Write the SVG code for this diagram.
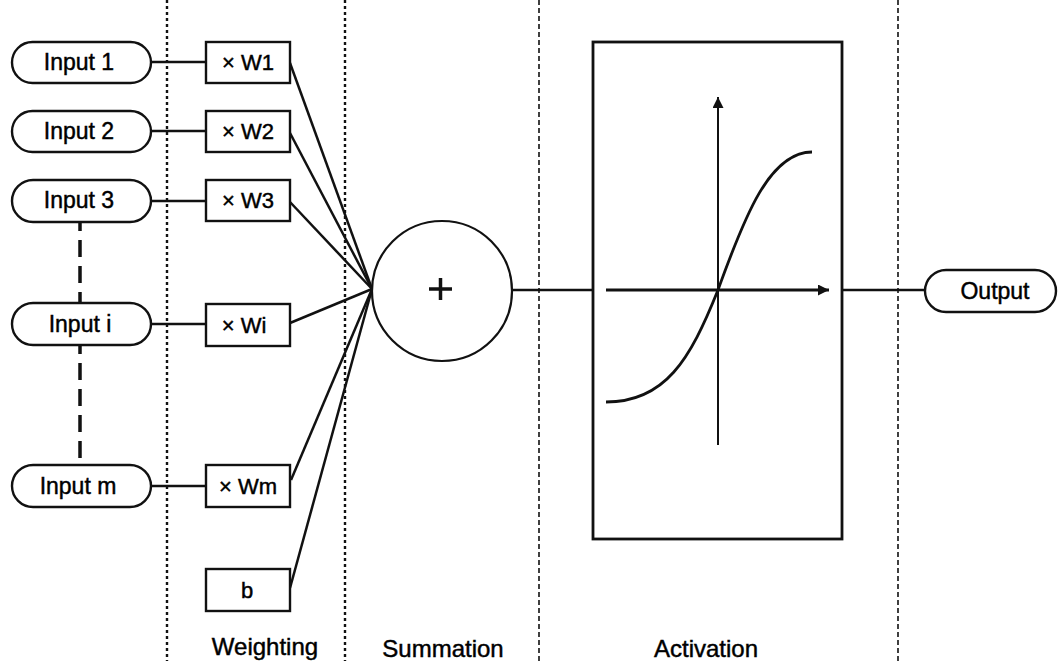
<svg xmlns="http://www.w3.org/2000/svg" width="1058" height="661" viewBox="0 0 1058 661">
<style>
.pill{fill:#fff;stroke:#111;stroke-width:2.4}
.box{fill:#fff;stroke:#111;stroke-width:2.4}
.t{font-family:"Liberation Sans",Arial,sans-serif;fill:#000;stroke:#000;stroke-width:0.45;text-anchor:middle}
.in{font-size:23px}
.w{font-size:22px}
.lab{font-size:24px}
.c{stroke:#111;stroke-width:2.5;fill:none}
.dot1{stroke:#111;stroke-width:2.4;stroke-dasharray:3 3}
.dot2{stroke:#111;stroke-width:1.6;stroke-dasharray:5 3}
</style>
<defs>
<marker id="ah" viewBox="0 0 10 10" refX="10" refY="5" markerWidth="11" markerHeight="11" markerUnits="userSpaceOnUse" orient="auto">
<path d="M0,0 L10,5 L0,10 z" fill="#111"/>
</marker>
</defs>
<rect width="1058" height="661" fill="#fff"/>
<g id="separators">
<line class="dot1" x1="167" y1="0" x2="167" y2="661"/>
<line class="dot1" x1="345" y1="0" x2="345" y2="661"/>
<line class="dot2" x1="539" y1="0" x2="539" y2="661"/>
<line class="dot2" x1="898" y1="0" x2="898" y2="661"/>
</g>
<g id="connectors">
<line class="c" x1="151" y1="62" x2="206" y2="62"/>
<line class="c" x1="151" y1="131" x2="206" y2="131"/>
<line class="c" stroke-width="3" x1="151" y1="201" x2="206" y2="201"/>
<line class="c" stroke-width="3.2" x1="151" y1="324" x2="206" y2="324"/>
<line class="c" x1="151" y1="486" x2="206" y2="486"/>
<line x1="80" y1="222" x2="80" y2="303" stroke="#111" stroke-width="3.5" stroke-dasharray="17 9" stroke-dashoffset="8"/>
<line x1="80" y1="345" x2="80" y2="465" stroke="#111" stroke-width="3.5" stroke-dasharray="17 9" stroke-dashoffset="8"/>
<line class="c" x1="290" y1="63" x2="372" y2="289"/>
<line class="c" x1="290" y1="133" x2="372" y2="289"/>
<line class="c" x1="290" y1="202" x2="372" y2="289"/>
<line class="c" x1="290" y1="323" x2="372" y2="289"/>
<line class="c" x1="291" y1="480" x2="372" y2="289"/>
<line class="c" x1="290" y1="588" x2="372" y2="289"/>
<line class="c" stroke-width="3.2" x1="512" y1="290" x2="593" y2="290"/>
<line class="c" stroke-width="3.2" x1="842" y1="290" x2="925" y2="290"/>
</g>
<g id="input1"><rect class="pill" x="12" y="42" width="139" height="41" rx="20.5"/><text class="t in" x="79" y="70">Input 1</text></g>
<g id="input2"><rect class="pill" x="12" y="111" width="139" height="41" rx="20.5"/><text class="t in" x="79" y="139">Input 2</text></g>
<g id="input3"><rect class="pill" x="12" y="180" width="139" height="42" rx="21"/><text class="t in" x="79" y="208">Input 3</text></g>
<g id="inputi"><rect class="pill" x="12" y="303" width="139" height="42" rx="21"/><text class="t in" x="80" y="332">Input i</text></g>
<g id="inputm"><rect class="pill" x="12" y="465" width="139" height="42" rx="21"/><text class="t in" x="78" y="494">Input m</text></g>
<g id="w1"><rect class="box" x="206" y="42" width="84" height="41"/><text class="t w" x="248" y="70">× W1</text></g>
<g id="w2"><rect class="box" x="206" y="111" width="84" height="41"/><text class="t w" x="248" y="139">× W2</text></g>
<g id="w3"><rect class="box" x="206" y="180" width="84" height="41"/><text class="t w" x="248" y="208">× W3</text></g>
<g id="wi"><rect class="box" x="206" y="304" width="84" height="42"/><text class="t w" x="244" y="333">× Wi</text></g>
<g id="wm"><rect class="box" x="206" y="465" width="84" height="42"/><text class="t w" x="248" y="494">× Wm</text></g>
<g id="bias"><rect class="box" x="206" y="569" width="84" height="42"/><text class="t w" x="247" y="598">b</text></g>
<g id="sum">
<circle cx="442" cy="291" r="70" fill="#fff" stroke="#111" stroke-width="2.2"/>
<line x1="429" y1="289" x2="452" y2="289" stroke="#111" stroke-width="3.5"/>
<line x1="440.5" y1="278" x2="440.5" y2="300" stroke="#111" stroke-width="3.5"/>
</g>
<g id="activation">
<rect x="593" y="42" width="249" height="497" fill="#fff" stroke="#111" stroke-width="2.8"/>
<line x1="606" y1="290" x2="829" y2="290" stroke="#111" stroke-width="3" marker-end="url(#ah)"/>
<line x1="718" y1="445" x2="718" y2="97" stroke="#111" stroke-width="2" marker-end="url(#ah)"/>
<path d="M606,402 C665,402 690,360 718,290 C745,215 770,152 812,152" fill="none" stroke="#111" stroke-width="2.8"/>
</g>
<g id="output"><rect class="pill" x="925" y="270" width="131" height="42" rx="21"/><text class="t in" x="995" y="299">Output</text></g>
<g id="labels">
<text class="t lab" x="265" y="655">Weighting</text>
<text class="t lab" x="443" y="657">Summation</text>
<text class="t lab" x="706" y="657">Activation</text>
</g>
</svg>
